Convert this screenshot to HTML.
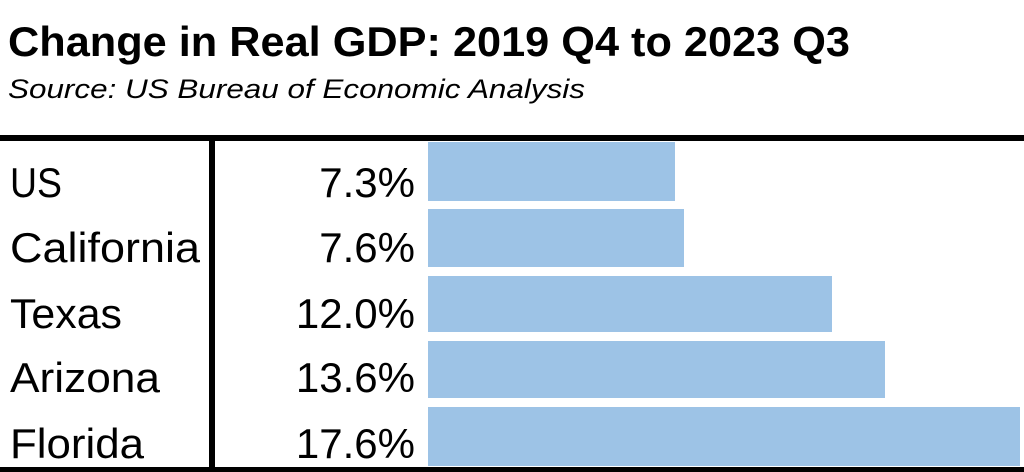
<!DOCTYPE html>
<html><head><meta charset="utf-8"><style>
html,body{margin:0;padding:0;background:#fff;width:1024px;height:472px;overflow:hidden}
svg{display:block}
text{font-family:"Liberation Sans",sans-serif;fill:#000}
</style></head><body>
<svg width="1024" height="472" viewBox="0 0 1024 472">
<text x="8" y="56" font-size="42" font-weight="bold" textLength="842" lengthAdjust="spacingAndGlyphs">Change in Real GDP:  2019 Q4 to 2023 Q3</text>
<text x="8" y="98" font-size="27" font-style="italic" textLength="577" lengthAdjust="spacingAndGlyphs">Source:  US Bureau of Economic Analysis</text>
<rect x="0" y="135" width="1024" height="6" fill="#000"/>
<rect x="209" y="135" width="6" height="337" fill="#000"/>
<rect x="0" y="467" width="1024" height="5" fill="#000"/>
<g fill="#9dc3e6">
<rect x="428" y="142" width="247" height="59"/>
<rect x="428" y="209" width="256" height="58"/>
<rect x="428" y="276" width="404" height="56"/>
<rect x="428" y="341" width="457" height="57"/>
<rect x="428" y="407" width="592" height="59"/>
</g>
<g font-size="42">
<text x="10" y="197" textLength="52" lengthAdjust="spacingAndGlyphs">US</text>
<text x="10" y="262" textLength="190" lengthAdjust="spacingAndGlyphs">California</text>
<text x="10" y="328" textLength="112" lengthAdjust="spacingAndGlyphs">Texas</text>
<text x="10" y="392" textLength="150" lengthAdjust="spacingAndGlyphs">Arizona</text>
<text x="10" y="458" textLength="134" lengthAdjust="spacingAndGlyphs">Florida</text>
</g>
<g font-size="42" text-anchor="end">
<text x="415" y="197">7.3%</text>
<text x="415" y="262">7.6%</text>
<text x="415" y="328">12.0%</text>
<text x="415" y="392">13.6%</text>
<text x="415" y="458">17.6%</text>
</g>
</svg>
</body></html>
